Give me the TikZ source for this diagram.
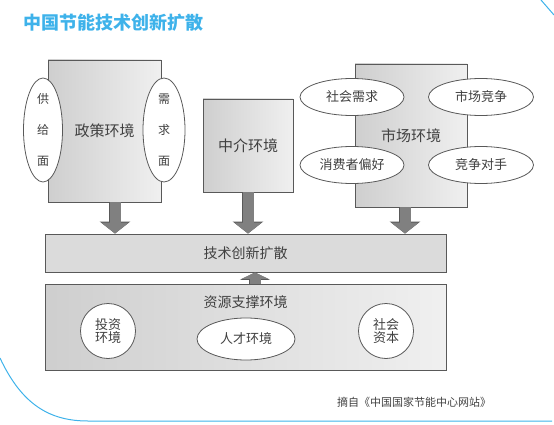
\documentclass[tikz,border=0pt]{standalone}
\usepackage{fontspec}
\newfontfamily\cjk{Noto Sans CJK SC}
\usetikzlibrary{shapes.geometric, arrows.meta, positioning}
\definecolor{titleblue}{RGB}{62,178,234}
\definecolor{txtgray}{RGB}{64,64,64}
\definecolor{arrowgray}{RGB}{128,128,128}
\tikzset{
    envbox/.style={rectangle, draw=black!65, line width=0.9pt, left color=black!19, right color=black!6, text=txtgray, font=\cjk\fontsize{15}{15}\selectfont, inner sep=0pt},
    flatbox/.style={rectangle, draw=black!65, line width=0.9pt, fill=black!14, text=txtgray, font=\cjk\fontsize{14}{14}\selectfont, inner sep=0pt},
    factor/.style={ellipse, draw=black!65, line width=0.8pt, fill=white, text=txtgray, font=\cjk\fontsize{13}{13}\selectfont, inner sep=0pt, align=center},
    sidebar/.style={factor, font=\cjk\fontsize{12}{31}\selectfont},
    bigarrow/.style={draw=arrowgray, line width=11pt, -{Triangle[length=11pt,width=27pt]},
        preaction={draw=black!65, line width=12.6pt, -{Triangle[length=12pt,width=30pt]}}},
    shortarrow/.style={draw=arrowgray, line width=11pt, -{Triangle[length=6.5pt,width=27pt]},
        preaction={draw=black!65, line width=12.6pt, -{Triangle[length=7.5pt,width=30pt]}}}
}

\begin{document}
\begin{tikzpicture}[x=1pt, y=-1pt]
    \useasboundingbox (0,0) rectangle (554,425);
    % blue frame
    \draw [titleblue, line width=1pt] (0,358) .. controls (22,405) and (50,421) .. (88,421) -- (552,421);
    \draw [titleblue, line width=1pt] (541,0) -- (554,15);
    \node (title) [anchor=west, text=titleblue, font=\cjk\bfseries\fontsize{18}{18}\selectfont] at (20,23) {中国节能技术创新扩散};

    % top environments
    \node (zc) [envbox, minimum width=113pt, minimum height=142pt] at (104.5,131) {政策环境};
    \node (gj) [sidebar, minimum width=39pt, minimum height=104pt] at (43,130) {供\\给\\面};
    \node (xq) [sidebar, minimum width=42pt, minimum height=104pt] at (164,130) {需\\求\\面};
    \node (zj) [envbox, minimum width=90pt, minimum height=93pt] at (248,145.5) {中介环境};
    \node (sc) [envbox, minimum width=112pt, minimum height=143pt] at (411,135.5) {市场环境};
    \node (shxq) [factor, minimum width=104pt, minimum height=37pt] at (352,97) {社会需求};
    \node (scjz) [factor, minimum width=105pt, minimum height=37pt] at (481,97) {市场竞争};
    \node (xfz) [factor, minimum width=104pt, minimum height=37pt] at (352,165) {消费者偏好};
    \node (jzds) [factor, minimum width=105pt, minimum height=37pt] at (481,165) {竞争对手};

    % diffusion and resources
    \node (js) [flatbox, minimum width=401pt, minimum height=38pt] at (245.5,253) {技术创新扩散};
    \node (zy) [envbox, minimum width=401pt, minimum height=86pt,
        label={[text=txtgray, font=\cjk\fontsize{14}{14}\selectfont, below=9pt]north:资源支撑环境}] at (245.5,327) {};
    \node (tz) [factor, minimum size=55pt] at (108,331) {投资\\环境};
    \node (rc) [factor, minimum width=98pt, minimum height=42pt] at (246,339) {人才环境};
    \node (shzb) [factor, minimum size=55pt] at (386,331) {社会\\资本};

    \node (src) [text=black!75, font=\cjk\fontsize{11}{11}\selectfont] at (414,402) {摘自《中国国家节能中心网站》};

    % arrows
    \draw [bigarrow] ([xshift=10.5pt]zc.south) -- ([xshift=10.5pt]zc.south |- js.north);
    \draw [bigarrow] (zj.south) -- (zj.south |- js.north);
    \draw [bigarrow] ([xshift=-6pt]sc.south) -- ([xshift=-6pt]sc.south |- js.north);
    \draw [shortarrow] ([xshift=9.5pt]zy.north) -- ([xshift=9.5pt]zy.north |- js.south);
\end{tikzpicture}
\end{document}
